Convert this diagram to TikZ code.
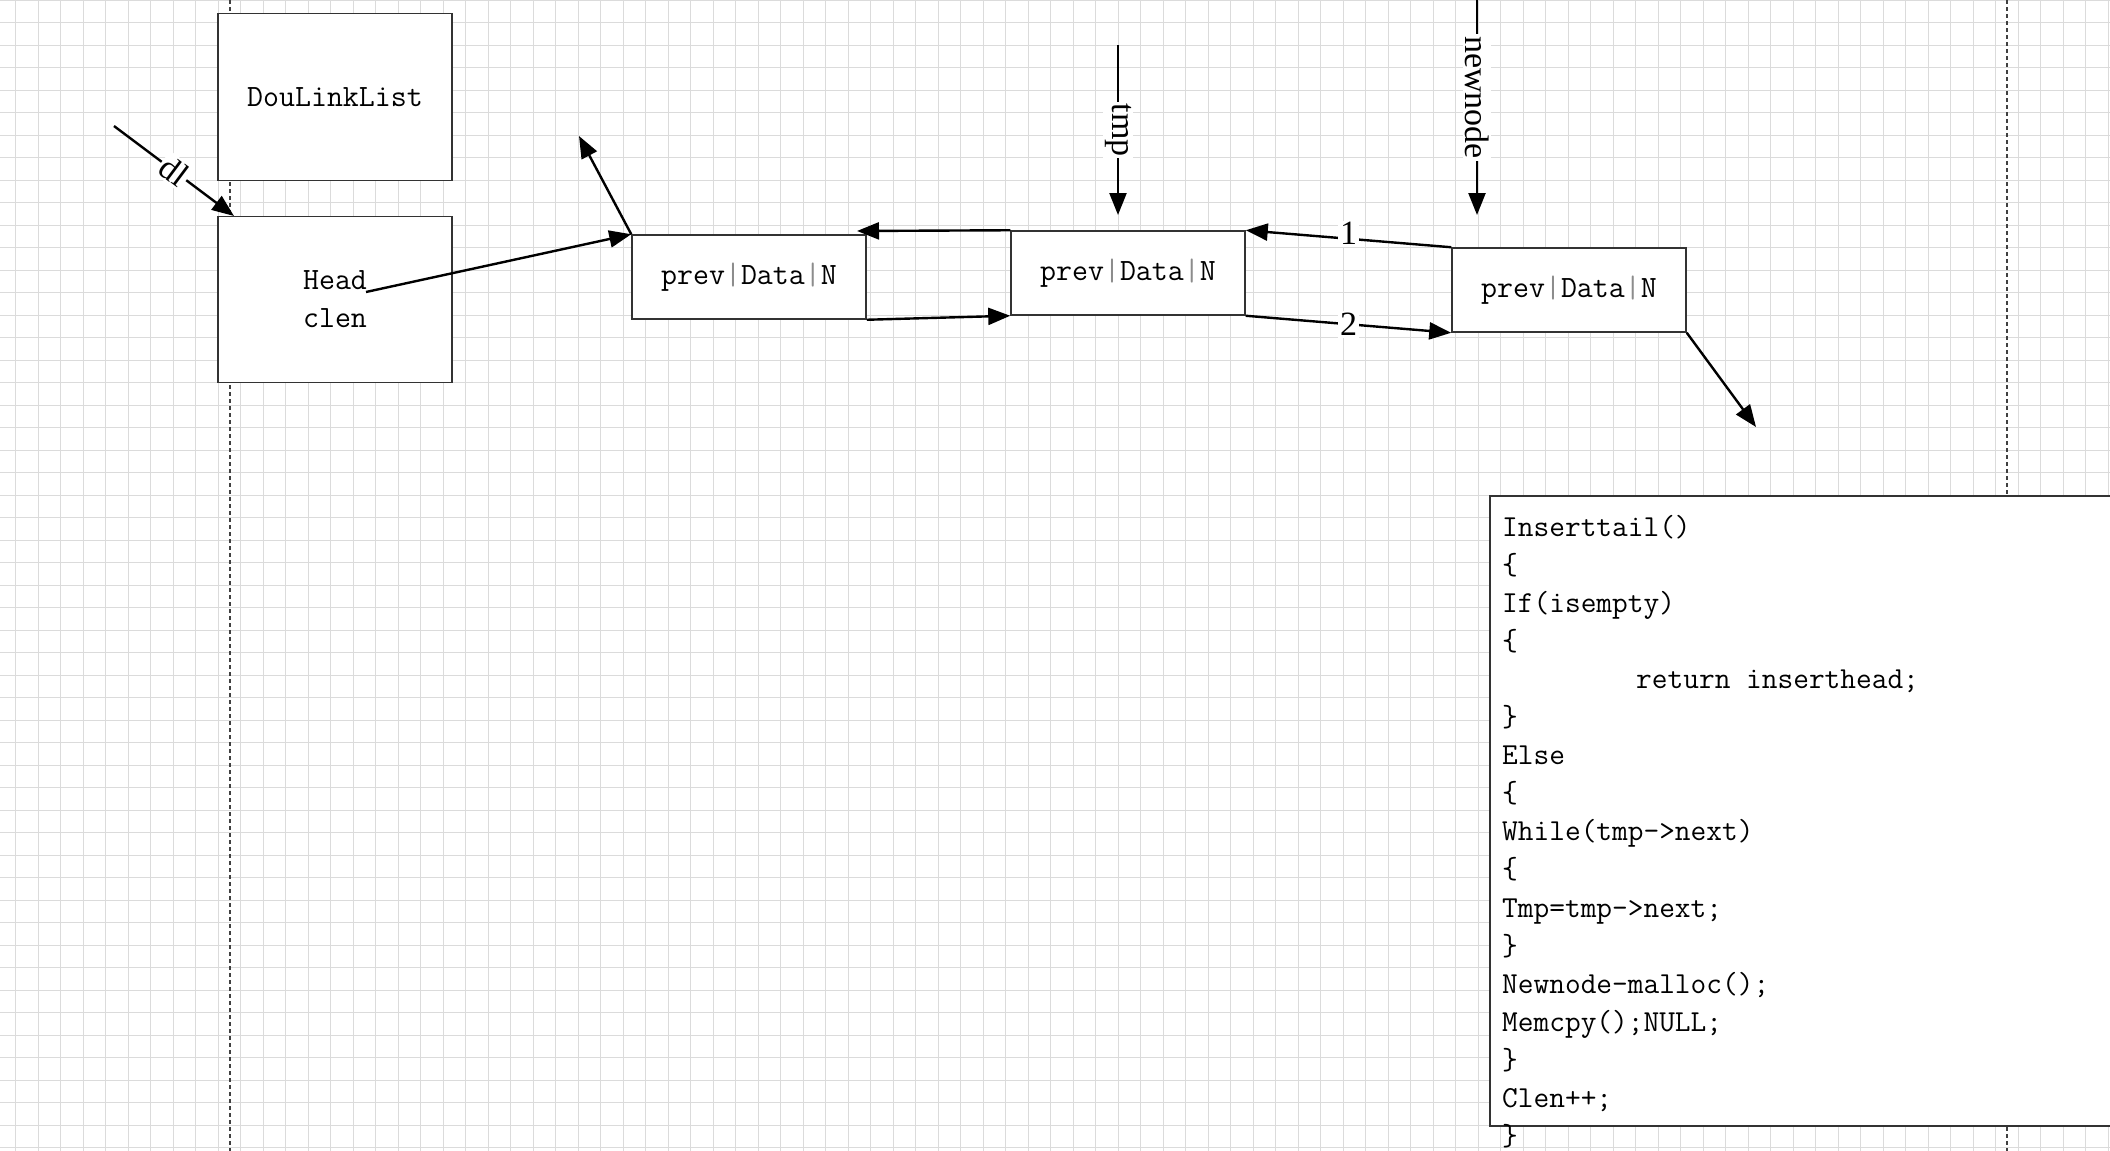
\documentclass[tikz,border=0pt]{standalone}
\usepackage{fontspec}
\newfontfamily\lblfont{Liberation Serif}
\usetikzlibrary{arrows.meta,calc}
\newcommand{\fieldsep}{{\color{black!45}|}}
\begin{document}
\begin{tikzpicture}[x=1pt,y=-1pt,
  gridline/.style={draw=black!14, line width=1pt},
  sepline/.style={draw=black!75, line width=1.3pt, dash pattern=on 4pt off 3pt},
  box/.style={draw=black!80, line width=1.5pt, fill=white, inner sep=0pt},
  boxfont/.style={font=\fontsize{31}{38}\selectfont\ttfamily},
  listnode/.style={box, boxfont, minimum width=234pt, minimum height=84pt},
  link/.style={draw=black, line width=2.4pt, -{Triangle[length=22pt,width=17pt]}},
  lbl/.style={fill=white, inner sep=2pt, font=\fontsize{34}{40}\selectfont\lblfont},
  codeline/.style={anchor=base west, inner sep=0pt, font=\fontsize{30.5}{38}\selectfont\ttfamily}]

\useasboundingbox (0,0) rectangle (2110,1151);
\clip (0,0) rectangle (2110,1151);
\fill[white] (0,0) rectangle (2110,1151);

% grid
\foreach \i in {0,...,93} \draw[gridline] ({15.7+22.5*\i},0) -- ({15.7+22.5*\i},1151);
\foreach \j in {0,...,51} \draw[gridline] (0,{0.3+22.5*\j}) -- (2110,{0.3+22.5*\j});

% dashed separators
\draw[sepline] (230,0) -- (230,1151);
\draw[sepline] (2007,0) -- (2007,1151);

% structure boxes
\node[box, boxfont, minimum width=234pt, minimum height=167pt] (dll) at (335,97) {DouLinkList};
\node[box, boxfont, minimum width=234pt, minimum height=166pt, align=center] (hb) at (335,299.5) {Head\\clen};

% list nodes
\node[listnode] (n1) at (749,277) {prev\fieldsep Data\fieldsep N};
\node[listnode] (n2) at (1128,273) {prev\fieldsep Data\fieldsep N};
\node[listnode] (n3) at (1569,290) {prev\fieldsep Data\fieldsep N};

% free ends
\coordinate (dls) at (114,126);
\coordinate (dle) at (234,216);
\coordinate (hs) at (366,292);
\coordinate (up) at (579,136);
\coordinate (back) at (857,231);
\coordinate (tmps) at (1118,45);
\coordinate (tmpe) at (1118,215);
\coordinate (nns) at (1477,0);
\coordinate (nne) at (1477,215);
\coordinate (nxt) at (1756,427);

% connectors
\draw[link] (dls) -- node[lbl, rotate=-36.87] (dllbl) {dl} (dle);
\draw[link] (n1.north west) -- (up);
\draw[link] (hs) -- (n1.north west);
\draw[link] (n2.north west) -- (back);
\draw[link] (n1.south east) -- (n2.south west);
\draw[link] (n3.north west) -- node[lbl, pos=0.5, yshift=5pt] (l1) {1} (n2.north east);
\draw[link] (n2.south east) -- node[lbl, pos=0.5] (l2) {2} (n3.south west);
\draw[link] (tmps) -- node[lbl, rotate=-90] (tmplbl) {tmp} (tmpe);
\draw[link] (nns) -- node[lbl, rotate=-90, pos=0.453] (nnlbl) {newnode} (nne);
\draw[link] (n3.south east) -- (nxt);

% code box
\node[box, anchor=north west, minimum width=700pt, minimum height=630pt] (codebox) at (1489,495) {};
\node[codeline] (c0) at (1502,536) {Inserttail()};
\node[codeline] (c1) at (1502,574.1) {\{};
\node[codeline] (c2) at (1502,612.2) {If(isempty)};
\node[codeline] (c3) at (1502,650.3) {\{};
\node[codeline] (c4) at (1636,688.4) {return inserthead;};
\node[codeline] (c5) at (1502,726.5) {\}};
\node[codeline] (c6) at (1502,764.6) {Else};
\node[codeline] (c7) at (1502,802.7) {\{};
\node[codeline] (c8) at (1502,840.8) {While(tmp->next)};
\node[codeline] (c9) at (1502,878.9) {\{};
\node[codeline] (c10) at (1502,917) {Tmp=tmp->next;};
\node[codeline] (c11) at (1502,955.1) {\}};
\node[codeline] (c12) at (1502,993.2) {Newnode-malloc();};
\node[codeline] (c13) at (1502,1031.3) {Memcpy();NULL;};
\node[codeline] (c14) at (1502,1069.4) {\}};
\node[codeline] (c15) at (1502,1107.5) {Clen++;};
\node[codeline] (c16) at (1502,1145.6) {\}};
\end{tikzpicture}
\end{document}
